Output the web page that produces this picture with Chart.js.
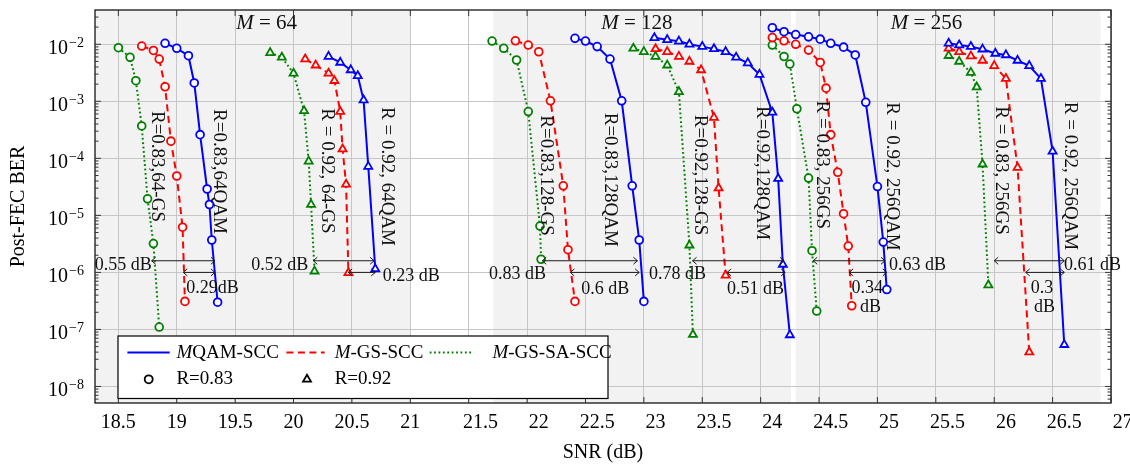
<!DOCTYPE html>
<html lang="en">
<head>
<meta charset="UTF-8">
<title>Post-FEC BER vs SNR</title>
<script src="https://cdn.jsdelivr.net/npm/chart.js@4.4.1/dist/chart.umd.min.js"></script>
<style>
    body {
        margin: 0;
        background: #fff;
    }

    .wrap {
        position: relative;
        width: 1130px;
        height: 465px;
    }
</style>
</head>
<body>
<div class="wrap"><canvas id="berChart"></canvas></div>
<script>
// ---- data (SNR in dB, post-FEC BER) ----
// M = 64, R = 0.83
const qam64r83Snr = [18.9, 19.0, 19.1, 19.15, 19.2, 19.26, 19.28, 19.3, 19.35];
const qam64r83Ber = [1.04e-2, 8.5e-3, 6.3e-3, 2.1e-3, 2.6e-4, 2.9e-5, 1.55e-5, 3.7e-6, 3.0e-7];
const gs64r83Snr = [18.7, 18.8, 18.85, 18.9, 18.95, 19.0, 19.05, 19.07];
const gs64r83Ber = [9.3e-3, 7.8e-3, 5.5e-3, 1.8e-3, 2.0e-4, 4.9e-5, 6.2e-6, 3.1e-7];
const sa64r83Snr = [18.5, 18.6, 18.65, 18.7, 18.75, 18.8, 18.85];
const sa64r83Ber = [8.7e-3, 5.9e-3, 2.3e-3, 3.7e-4, 1.95e-5, 3.2e-6, 1.1e-7];
// M = 64, R = 0.92
const qam64r92Snr = [20.3, 20.4, 20.49, 20.55, 20.6, 20.64, 20.7];
const qam64r92Ber = [6.1e-3, 4.8e-3, 3.55e-3, 2.8e-3, 1.05e-3, 7.2e-5, 1.15e-6];
const gs64r92Snr = [20.1, 20.19, 20.3, 20.35, 20.4, 20.42, 20.45, 20.47];
const gs64r92Ber = [5.5e-3, 4.3e-3, 3.1e-3, 2.3e-3, 6.6e-4, 1.45e-4, 3.5e-5, 9.8e-7];
const sa64r92Snr = [19.8, 19.9, 20.0, 20.09, 20.13, 20.15, 20.18];
const sa64r92Ber = [7.1e-3, 5.9e-3, 3.1e-3, 6.8e-4, 8.9e-5, 1.55e-5, 1.05e-6];
// M = 128, R = 0.83
const qam128r83Snr = [22.41, 22.5, 22.6, 22.71, 22.81, 22.9, 22.96, 23.0];
const qam128r83Ber = [1.27e-2, 1.14e-2, 9.1e-3, 5.5e-3, 1.02e-3, 3.3e-5, 3.7e-6, 3.1e-7];
const gs128r83Snr = [21.9, 22.01, 22.1, 22.2, 22.31, 22.35, 22.41];
const gs128r83Ber = [1.15e-2, 9.7e-3, 7.4e-3, 1.02e-3, 3.3e-5, 2.5e-6, 3.1e-7];
const sa128r83Snr = [21.7, 21.8, 21.91, 22.01, 22.11, 22.12];
const sa128r83Ber = [1.14e-2, 8.5e-3, 5.3e-3, 6.6e-4, 6.5e-6, 1.7e-6];
// M = 128, R = 0.92
const qam128r92Snr = [23.09, 23.2, 23.3, 23.39, 23.5, 23.6, 23.7, 23.79, 23.89, 23.99, 24.1, 24.15, 24.19, 24.25];
const qam128r92Ber = [1.3e-2, 1.2e-2, 1.13e-2, 1.0e-2, 9.1e-3, 8.3e-3, 7.4e-3, 5.9e-3, 4.7e-3, 2.95e-3, 6.4e-4, 4.4e-5, 1.38e-6, 8.0e-8];
const gs128r92Snr = [23.1, 23.2, 23.3, 23.39, 23.49, 23.6, 23.64, 23.7];
const gs128r92Ber = [8.3e-3, 7.4e-3, 6.1e-3, 5.0e-3, 3.55e-3, 5.2e-4, 3.0e-5, 8.9e-7];
const sa128r92Snr = [22.91, 23.0, 23.1, 23.2, 23.3, 23.39, 23.42];
const sa128r92Ber = [8.5e-3, 7.4e-3, 6.1e-3, 4.3e-3, 1.47e-3, 3.0e-6, 8.1e-8];
// M = 256, R = 0.83
const qam256r83Snr = [24.1, 24.2, 24.3, 24.41, 24.51, 24.6, 24.71, 24.81, 24.9, 25.0, 25.05, 25.08];
const qam256r83Ber = [1.95e-2, 1.66e-2, 1.48e-2, 1.35e-2, 1.23e-2, 1.04e-2, 8.9e-3, 6.5e-3, 9.6e-4, 3.2e-5, 3.4e-6, 5.0e-7];
const gs256r83Snr = [24.1, 24.2, 24.3, 24.41, 24.51, 24.56, 24.6, 24.66, 24.71, 24.75, 24.78];
const gs256r83Ber = [1.31e-2, 1.15e-2, 1.0e-2, 7.9e-3, 4.8e-3, 1.7e-3, 2.6e-4, 5.7e-5, 1.07e-5, 2.9e-6, 2.6e-7];
const sa256r83Snr = [24.1, 24.2, 24.25, 24.31, 24.41, 24.44, 24.48];
const sa256r83Ber = [9.7e-3, 6.1e-3, 4.5e-3, 7.4e-4, 4.5e-5, 2.4e-6, 2.1e-7];
// M = 256, R = 0.92
const qam256r92Snr = [25.61, 25.7, 25.8, 25.9, 26.01, 26.1, 26.2, 26.3, 26.4, 26.5, 26.6];
const qam256r92Ber = [1.04e-2, 9.7e-3, 9.1e-3, 8.2e-3, 6.9e-3, 6.5e-3, 5.2e-3, 4.2e-3, 2.5e-3, 1.33e-4, 5.4e-8];
const gs256r92Snr = [25.61, 25.7, 25.8, 25.9, 26.0, 26.1, 26.2, 26.3];
const gs256r92Ber = [8.5e-3, 7.4e-3, 6.2e-3, 5.2e-3, 4.2e-3, 2.5e-3, 6.9e-5, 4.0e-8];
const sa256r92Snr = [25.61, 25.7, 25.8, 25.85, 25.9, 25.95];
const sa256r92Ber = [6.3e-3, 5.0e-3, 3.2e-3, 1.77e-3, 7.9e-5, 6.0e-7];

// axes
const xTicks = [18.5, 19, 19.5, 20, 20.5, 21, 21.5, 22, 22.5, 23, 23.5, 24, 24.5, 25, 25.5, 26, 26.5, 27];
const yTickExps = [-2, -3, -4, -5, -6, -7, -8];

// shaded SNR ranges behind each group
const bandStart = [18.3, 21.71, 24.3];
const bandEnd = [21.0, 24.26, 26.91];

// group titles
const groupNames = ['64', '128', '256'];
const groupSnr = [19.77, 22.94, 25.42];
const groupBer = 2.33e-2;

// SNR gaps: GS-SA -> QAM (upper arrow) and GS -> QAM (lower arrow)
const saGapFrom = [18.785, 20.169, 22.13, 23.417, 24.45, 26.0];
const saGapTo = [19.327, 20.69, 22.945, 24.2, 25.065, 26.6];
const saGapBer = 1.6e-6;
const gsGapFrom = [19.056, 20.468, 22.37, 23.713, 24.758, 26.27];
const gsGapTo = [19.327, 20.7, 22.96, 24.21, 25.08, 26.6];
const gsGapBer = 1e-6;

// gap labels
const gapText = ['0.55 dB', '0.29dB', '0.52 dB', '0.23 dB', '0.83 dB', '0.6 dB', '0.78 dB', '0.51 dB', '0.63 dB', '0.34', 'dB', '0.61 dB', '0.3', 'dB'];
const gapTextSnr = [18.785, 19.306, 20.126, 20.765, 22.161, 22.67, 23.531, 23.956, 25.1, 24.913, 24.94, 26.598, 26.41, 26.43];
const gapTextBer = [1.33e-6, 5.3e-7, 1.36e-6, 8.7e-7, 9.1e-7, 5.0e-7, 9.1e-7, 5.0e-7, 1.36e-6, 5.3e-7, 2.4e-7, 1.36e-6, 5.3e-7, 2.4e-7];
const gapTextAlign = ['right', 'center', 'right', 'left', 'right', 'center', 'right', 'center', 'left', 'center', 'center', 'left', 'center', 'center'];

// curve labels (rotated)
const curveText = ['R=0.83,64-GS', 'R=0.83,64QAM', 'R = 0.92, 64-GS', 'R = 0.92, 64QAM',
    'R=0.83,128-GS', 'R=0.83,128QAM', 'R=0.92,128-GS', 'R=0.92,128QAM',
    'R = 0.83, 256GS', 'R = 0.92, 256QAM', 'R = 0.83, 256GS', 'R = 0.92, 256QAM'];
const curveTextSnr = [18.828, 19.361, 20.289, 20.797, 22.165, 22.709, 23.48, 24.008, 24.521, 25.126, 26.054, 26.647];
const curveTextBer = [7.2e-5, 5.9e-5, 6.0e-5, 4.8e-5, 5.0e-5, 4.2e-5, 5.1e-5, 5.5e-5, 7.7e-5, 4.8e-5, 6.1e-5, 4.9e-5];

const curves = [
    ['qam', 0.83, qam64r83Snr, qam64r83Ber], ['gs', 0.83, gs64r83Snr, gs64r83Ber], ['sa', 0.83, sa64r83Snr, sa64r83Ber],
    ['qam', 0.92, qam64r92Snr, qam64r92Ber], ['gs', 0.92, gs64r92Snr, gs64r92Ber], ['sa', 0.92, sa64r92Snr, sa64r92Ber],
    ['qam', 0.83, qam128r83Snr, qam128r83Ber], ['gs', 0.83, gs128r83Snr, gs128r83Ber], ['sa', 0.83, sa128r83Snr, sa128r83Ber],
    ['qam', 0.92, qam128r92Snr, qam128r92Ber], ['gs', 0.92, gs128r92Snr, gs128r92Ber], ['sa', 0.92, sa128r92Snr, sa128r92Ber],
    ['qam', 0.83, qam256r83Snr, qam256r83Ber], ['gs', 0.83, gs256r83Snr, gs256r83Ber], ['sa', 0.83, sa256r83Snr, sa256r83Ber],
    ['qam', 0.92, qam256r92Snr, qam256r92Ber], ['gs', 0.92, gs256r92Snr, gs256r92Ber], ['sa', 0.92, sa256r92Snr, sa256r92Ber],
];

const serif = "'Liberation Serif', 'DejaVu Serif', serif";
const schemeStyle = {
    qam: { color: '#0000ff', dash: [], width: 2 },
    gs: { color: '#ff0000', dash: [7, 4.5], width: 2 },
    sa: { color: '#008000', dash: [1.8, 2.6], width: 2 },
};

const datasets = curves.map(([scheme, rate, snr, ber]) => {
    const s = schemeStyle[scheme];
    return {
        data: snr.map((v, i) => ({ x: v, y: ber[i] })),
        borderColor: s.color,
        borderWidth: s.width,
        borderDash: s.dash,
        pointStyle: rate === 0.83 ? 'circle' : 'triangle',
        pointRadius: rate === 0.83 ? 3.9 : 4.6,
        pointBorderWidth: 1.8,
        pointBorderColor: s.color,
        pointBackgroundColor: '#ffffff',
        tension: 0,
        fill: false,
    };
});

function drawParts(ctx, parts, x, y, size, align) {
    // parts: [[text, italic], ...]
    let w = 0;
    parts.forEach(([t, it]) => {
        ctx.font = `${it ? 'italic ' : ''}${size}px ${serif}`;
        w += ctx.measureText(t).width;
    });
    let cx = align === 'center' ? x - w / 2 : x;
    ctx.textAlign = 'left';
    parts.forEach(([t, it]) => {
        ctx.font = `${it ? 'italic ' : ''}${size}px ${serif}`;
        ctx.fillText(t, cx, y);
        cx += ctx.measureText(t).width;
    });
}

function drawArrow(ctx, x0, x1, y) {
    ctx.beginPath();
    ctx.moveTo(x0, y);
    ctx.lineTo(x1, y);
    ctx.moveTo(x0 + 4, y - 3.5);
    ctx.lineTo(x0, y);
    ctx.lineTo(x0 + 4, y + 3.5);
    ctx.moveTo(x1 - 4, y - 3.5);
    ctx.lineTo(x1, y);
    ctx.lineTo(x1 - 4, y + 3.5);
    ctx.stroke();
}

function drawMark(ctx, style, x, y) {
    ctx.beginPath();
    if (style === 'circle') {
        ctx.arc(x, y, 4, 0, Math.PI * 2);
    } else {
        const r = 4.6;
        ctx.moveTo(x, y - r);
        ctx.lineTo(x + r * 0.866, y + r / 2);
        ctx.lineTo(x - r * 0.866, y + r / 2);
        ctx.closePath();
    }
    ctx.stroke();
}

const legendLines = [
    { scheme: 'qam', x0: 9.4, x1: 51.7, tx: 58.4, parts: [['M', true], ['QAM-SCC', false]] },
    { scheme: 'gs', x0: 168.4, x1: 206.7, tx: 216.7, parts: [['M', true], ['-GS-SCC', false]] },
    { scheme: 'sa', x0: 311.7, x1: 355, tx: 374.4, parts: [['M', true], ['-GS-SA-SCC', false]] },
];
const legendMarks = [
    { style: 'circle', mx: 30.7, tx: 58.4, text: 'R=0.83' },
    { style: 'triangle', mx: 189, tx: 216.7, text: 'R=0.92' },
];

const decor = {
    id: 'decor',
    beforeDraw(chart) {
        const { ctx, chartArea: a, scales: { x } } = chart;
        ctx.save();
        ctx.fillStyle = '#f2f2f2';
        bandStart.forEach((s, i) => {
            const p0 = Math.max(x.getPixelForValue(s), a.left);
            const p1 = Math.min(x.getPixelForValue(bandEnd[i]), a.right);
            ctx.fillRect(p0, a.top, p1 - p0, a.bottom - a.top);
        });
        ctx.restore();
    },
    afterDatasetsDraw(chart) {
        const { ctx, scales: { x, y } } = chart;
        ctx.save();
        ctx.strokeStyle = '#1a1a1a';
        ctx.lineWidth = 1;
        saGapFrom.forEach((s, i) => drawArrow(ctx, x.getPixelForValue(s), x.getPixelForValue(saGapTo[i]), y.getPixelForValue(saGapBer)));
        gsGapFrom.forEach((s, i) => drawArrow(ctx, x.getPixelForValue(s), x.getPixelForValue(gsGapTo[i]), y.getPixelForValue(gsGapBer)));

        ctx.fillStyle = '#111';
        ctx.textBaseline = 'middle';
        ctx.font = `18px ${serif}`;
        gapText.forEach((t, i) => {
            ctx.textAlign = gapTextAlign[i];
            ctx.fillText(t, x.getPixelForValue(gapTextSnr[i]), y.getPixelForValue(gapTextBer[i]));
        });

        ctx.font = `19px ${serif}`;
        ctx.textAlign = 'center';
        curveText.forEach((t, i) => {
            ctx.save();
            ctx.translate(x.getPixelForValue(curveTextSnr[i]), y.getPixelForValue(curveTextBer[i]));
            ctx.rotate(Math.PI / 2);
            ctx.fillText(t, 0, 0);
            ctx.restore();
        });

        groupNames.forEach((g, i) => {
            drawParts(ctx, [['M', true], [' = ' + g, false]], x.getPixelForValue(groupSnr[i]), y.getPixelForValue(groupBer), 21, 'center');
        });
        ctx.restore();
    },
    afterDraw(chart) {
        const { ctx, chartArea: a, scales: { x, y } } = chart;
        ctx.save();
        // frame
        ctx.strokeStyle = '#000';
        ctx.lineWidth = 1.2;
        ctx.strokeRect(a.left, a.top, a.right - a.left, a.bottom - a.top);

        // inward tick marks
        ctx.lineWidth = 1;
        ctx.strokeStyle = '#333';
        ctx.beginPath();
        xTicks.forEach(v => {
            const px = x.getPixelForValue(v);
            ctx.moveTo(px, a.bottom); ctx.lineTo(px, a.bottom - 6);
            ctx.moveTo(px, a.top); ctx.lineTo(px, a.top + 6);
        });
        for (let k = -9; k <= -1; k++) {
            for (let m = 1; m <= 9; m++) {
                const v = m * Math.pow(10, k);
                if (v < y.min || v > y.max) continue;
                const py = y.getPixelForValue(v);
                const len = m === 1 ? 6 : 3.5;
                ctx.moveTo(a.left, py); ctx.lineTo(a.left + len, py);
                ctx.moveTo(a.right, py); ctx.lineTo(a.right - len, py);
            }
        }
        ctx.stroke();

        // tick labels
        ctx.fillStyle = '#000';
        ctx.textBaseline = 'alphabetic';
        ctx.font = `20px ${serif}`;
        ctx.textAlign = 'center';
        xTicks.forEach(v => {
            const shifted = v >= 21.5 ? v + 0.1 : v;
            ctx.fillText(String(v), x.getPixelForValue(shifted), a.bottom + 25);
        });
        ctx.textAlign = 'right';
        yTickExps.forEach(k => {
            const py = y.getPixelForValue(Math.pow(10, k));
            const sup = '\u2212' + (-k);
            ctx.font = `14px ${serif}`;
            const supW = ctx.measureText(sup).width;
            ctx.fillText(sup, a.left - 11, py + 2.5);
            ctx.font = `20px ${serif}`;
            ctx.fillText('10', a.left - 12 - supW, py + 10);
        });

        // legend box
        const lx = a.left + 23, ly = a.bottom - 67, lw = 490, lh = 62.5;
        ctx.fillStyle = '#fff';
        ctx.fillRect(lx, ly, lw, lh);
        ctx.strokeStyle = '#000';
        ctx.lineWidth = 1.2;
        ctx.strokeRect(lx, ly, lw, lh);
        const row1 = ly + 16.6, row2 = ly + 43.3;
        legendLines.forEach(item => {
            const s = schemeStyle[item.scheme];
            ctx.strokeStyle = s.color;
            ctx.lineWidth = s.width;
            ctx.setLineDash(s.dash);
            ctx.beginPath();
            ctx.moveTo(lx + item.x0, row1);
            ctx.lineTo(lx + item.x1, row1);
            ctx.stroke();
            ctx.setLineDash([]);
            ctx.fillStyle = '#000';
            ctx.textBaseline = 'middle';
            drawParts(ctx, item.parts, lx + item.tx, row1, 19, 'left');
        });
        legendMarks.forEach(item => {
            ctx.strokeStyle = '#000';
            ctx.lineWidth = 1.8;
            drawMark(ctx, item.style, lx + item.mx, row2);
            ctx.fillStyle = '#000';
            ctx.textBaseline = 'middle';
            ctx.textAlign = 'left';
            ctx.font = `19px ${serif}`;
            ctx.fillText(item.text, lx + item.tx, row2);
        });
        ctx.restore();
    }
};

new Chart(document.getElementById('berChart'), {
    type: 'line',
    data: { datasets },
    options: {
        responsive: true,
        maintainAspectRatio: false,
        animation: false,
        layout: { padding: { top: 10, right: 19, left: 0, bottom: 0 } },
        plugins: {
            legend: { display: false },
            tooltip: { enabled: false },
        },
        scales: {
            x: {
                type: 'linear',
                min: 18.3,
                max: 27,
                afterBuildTicks: s => { s.ticks = xTicks.map(v => ({ value: v })); },
                afterFit: s => { s.height = 62; },
                grid: { color: '#c6c6c6', lineWidth: 1, drawTicks: false },
                border: { display: false },
                ticks: { display: false },
                title: {
                    display: true,
                    text: 'SNR (dB)',
                    color: '#000',
                    font: { family: serif, size: 20 },
                    padding: { top: 0, bottom: 0 },
                },
            },
            y: {
                type: 'logarithmic',
                min: 5.13e-9,
                max: 3.99e-2,
                afterBuildTicks: s => { s.ticks = yTickExps.map(k => ({ value: Math.pow(10, k) })); },
                afterFit: s => { s.width = 95; },
                grid: { color: '#c6c6c6', lineWidth: 1, drawTicks: false },
                border: { display: false },
                ticks: { display: false },
                title: {
                    display: true,
                    text: 'Post-FEC BER',
                    color: '#000',
                    font: { family: serif, size: 20 },
                    padding: { top: 7, bottom: 0 },
                },
            },
        },
    },
    plugins: [decor],
});
</script>
</body>
</html>
